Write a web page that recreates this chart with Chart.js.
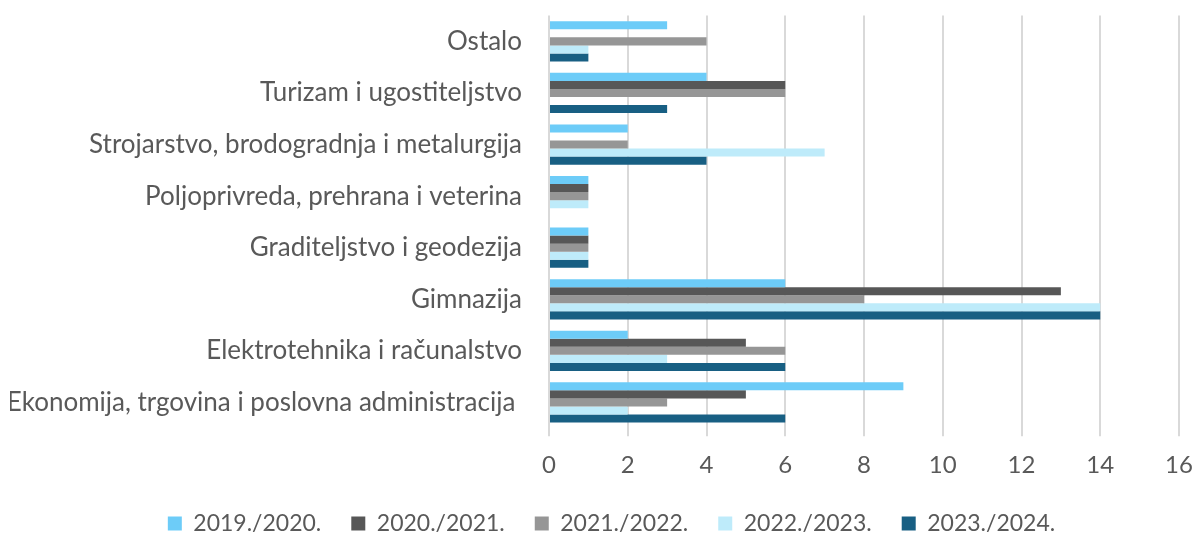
<!DOCTYPE html>
<html>
<head>
<meta charset="utf-8">
<script src="https://cdn.jsdelivr.net/npm/chart.js@4"></script>
<style>
    html, body { margin: 0; padding: 0; background: #ffffff; }
    #wrap { width: 1192px; height: 533px; }
</style>
</head>
<body>
<div id="wrap"><canvas id="grafikon"></canvas></div>
<script>
    // Podaci
    var kategorije = [
        "Ostalo",
        "Turizam i ugostiteljstvo",
        "Strojarstvo, brodogradnja i metalurgija",
        "Poljoprivreda, prehrana i veterina",
        "Graditeljstvo i geodezija",
        "Gimnazija",
        "Elektrotehnika i računalstvo",
        "Ekonomija, trgovina i poslovna administracija "
    ];
    var godine = ["2019./2020.", "2020./2021.", "2021./2022.", "2022./2023.", "2023./2024."];
    var god2019 = [3, 4, 2, 1, 1, 6, 2, 9];
    var god2020 = [0, 6, 0, 1, 1, 13, 5, 5];
    var god2021 = [4, 6, 2, 1, 1, 8, 6, 3];
    var god2022 = [1, 0, 7, 1, 1, 14, 3, 2];
    var god2023 = [1, 3, 4, 0, 1, 14, 6, 6];
    var osX = { min: 0, max: 16, korak: 2 };

    var boje = ["#6DCCF8", "#575757", "#969696", "#BEEBFA", "#185F83"];
    var serije = [god2019, god2020, god2021, god2022, god2023];

    // legenda malo udesno, kao u originalu
    var pomakLegende = {
        id: "pomakLegende",
        afterLayout: function (chart) {
            if (chart.legend) {
                chart.legend.left += 12;
                chart.legend.right += 12;
            }
        }
    };

    var ctx = document.getElementById("grafikon").getContext("2d");
    var grafikon = new Chart(ctx, {
        type: "bar",
        data: {
            labels: kategorije,
            datasets: serije.map(function (vrijednosti, i) {
                return {
                    label: godine[i],
                    data: vrijednosti,
                    backgroundColor: boje[i],
                    borderWidth: 0,
                    categoryPercentage: 0.78,
                    barPercentage: 1
                };
            })
        },
        options: {
            indexAxis: "y",
            responsive: true,
            maintainAspectRatio: false,
            animation: false,
            layout: { padding: { left: 10, right: 3, top: 15, bottom: 0 } },
            plugins: {
                legend: {
                    position: "bottom",
                    maxHeight: 51,
                    labels: {
                        color: "#595959",
                        font: { family: "Lato", size: 23 },
                        boxWidth: 14,
                        boxHeight: 14,
                        padding: 30
                    }
                },
                tooltip: { enabled: false }
            },
            scales: {
                x: {
                    min: osX.min,
                    max: osX.max,
                    ticks: {
                        stepSize: osX.korak,
                        color: "#595959",
                        font: { family: "Lato", size: 24 },
                        padding: 15
                    },
                    grid: {
                        color: "#d9d9d9",
                        lineWidth: 2,
                        tickLength: 8
                    },
                    border: { display: false },
                    afterFit: function (skala) {
                        skala.height -= 13;
                        skala.paddingRight = 13;
                    }
                },
                y: {
                    ticks: {
                        color: "#595959",
                        font: { family: "Lato", size: 26 },
                        padding: 0
                    },
                    grid: {
                        drawOnChartArea: false,
                        color: "rgba(0,0,0,0)",
                        tickLength: 27
                    },
                    border: { display: false },
                    afterFit: function (skala) { skala.width = 539; }
                }
            }
        },
        plugins: [pomakLegende]
    });
</script>
</body>
</html>
